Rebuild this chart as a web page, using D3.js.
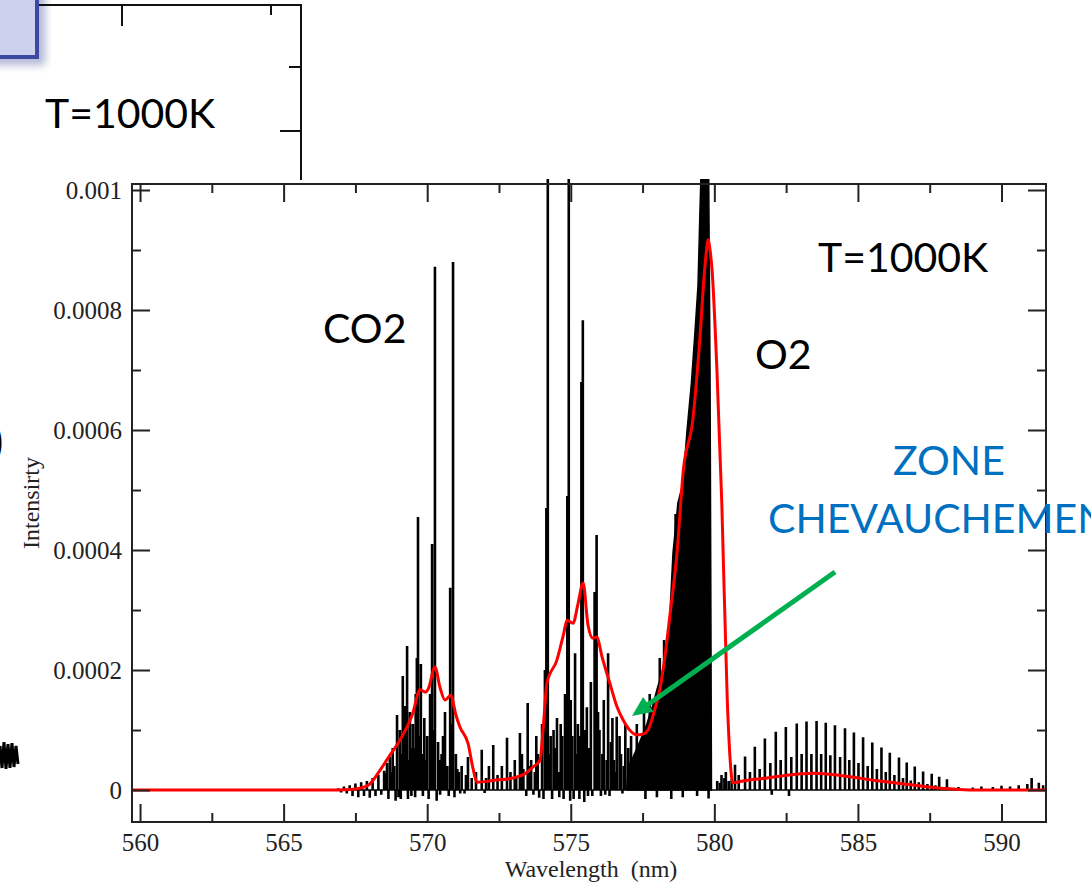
<!DOCTYPE html>
<html>
<head>
<meta charset="utf-8">
<script src="https://cdn.jsdelivr.net/npm/d3@7/dist/d3.min.js"></script>
<style>
  html, body { margin: 0; padding: 0; background: #fff; }
  svg { display: block; }
</style>
</head>
<body>
<svg id="c" width="1091" height="885"></svg>
<script>
// axis ticks
const xTicks = [560, 565, 570, 575, 580, 585, 590];
const xMinorTicks = [562.5, 567.5, 572.5, 577.5, 582.5, 587.5];
const yTicks = [0, 0.0002, 0.0004, 0.0006, 0.0008, 0.001];
const yTickLabels = ["0", "0.0002", "0.0004", "0.0006", "0.0008", "0.001"];
const yMinorTicks = [0.0001, 0.0003, 0.0005, 0.0007, 0.0009];

// black stick spectrum (wavelength nm, intensity)
const stickWl = [
  566.9, 567.0, 567.1, 567.2, 567.3, 567.4, 567.5, 567.6, 567.7, 567.8, 567.9, 568.0, 568.1, 568.2, 568.3, 568.4,
  568.5, 568.55, 568.6, 568.65, 568.7, 568.8, 568.85, 568.95, 569.0, 569.05, 569.1, 569.15, 569.22, 569.3, 569.35,
  569.4, 569.45, 569.5, 569.55, 569.6, 569.68, 569.78, 569.85, 569.9, 570.0, 570.17, 570.27, 570.38, 570.45, 570.5,
  570.62, 570.8, 570.9, 571.0, 571.1, 571.2, 571.3, 571.42, 571.55, 571.7, 571.9, 572.0, 572.05, 572.15, 572.3,
  572.45, 572.6, 572.78, 572.9, 573.05, 573.23, 573.35, 573.5, 573.62, 573.7, 573.75, 573.85, 573.9, 574.0,
  574.15, 574.2, 574.3, 574.4, 574.52, 574.6, 574.7, 574.8, 574.88, 574.93, 574.98, 575.0, 575.15, 575.25, 575.3,
  575.37, 575.42, 575.56, 575.6, 575.7, 575.83, 575.9, 576.0, 576.1, 576.2, 576.3, 576.4, 576.5, 576.6, 576.75,
  576.8, 576.9, 577.0, 577.1, 577.6, 578.0, 578.5, 578.9, 579.4, 579.8,
  580.1, 580.25, 580.35, 580.5, 580.72, 581.07, 581.24, 581.41, 581.58, 581.76, 581.95, 582.0, 582.14, 582.31,
  582.49, 582.6, 582.68, 582.87, 583.04, 583.21, 583.38, 583.56, 583.72, 583.88, 584.04, 584.2, 584.38, 584.55,
  584.7, 584.86, 585.02, 585.18, 585.34, 585.5, 585.66, 585.82, 585.97, 586.11, 586.27, 586.43, 586.57, 586.7,
  586.84, 586.98, 587.12, 587.27, 587.42, 587.57, 587.7, 587.83, 588.1, 588.5, 589.0, 589.3, 589.7, 590.0,
  590.3, 590.6, 590.9, 591.05, 591.3, 591.45,
  // weaker lines filling the bands
  568.75, 568.9, 569.08, 569.18, 569.26, 569.33, 569.42, 569.48, 569.58, 569.64, 569.73, 569.82, 569.95, 570.05,
  570.1, 570.22, 570.33, 570.42, 570.55, 570.7, 570.75, 570.85, 570.95, 571.05, 571.15, 571.35,
  573.1, 573.3, 573.45, 573.55, 573.8, 574.05, 574.1, 574.25, 574.35, 574.45, 574.57, 574.65, 574.75, 575.05,
  575.1, 575.2, 575.33, 575.47, 575.5, 575.65, 575.75, 575.95, 576.05, 576.15, 576.25, 576.35, 576.45, 576.55,
  576.7, 576.85, 577.3, 577.55, 577.75, 578.1, 578.25, 578.65, 580.2, 580.4, 580.6, 580.85
];
const stickI = [
  3e-6, -4e-6, 6e-6, -6e-6, 8e-6, -1e-5, 1.1e-5, -1.2e-5, 1.3e-5, -1e-5, 1.5e-5, -1.3e-5, 2e-5, -1e-5, 2.5e-5, -8e-6,
  3.2e-5, 2.8e-5, 4.5e-5, -1.5e-5, 5.5e-5, 7e-5, 4e-5, 1.25e-4, -1.2e-5, 1.0e-4, 6e-5, 1.9e-4, 1.4e-4, 2.4e-4, 5e-5,
  1.3e-4, -1e-5, 1.1e-4, 7e-5, 1.6e-4, 4.55e-4, 2.1e-4, -1e-5, 1.2e-4, 9e-5, 4.1e-4, 8.72e-4, 8e-5, -8e-6, 6e-5,
  1.3e-4, 3.37e-4, 8.8e-4, 6e-5, 3e-5, 4e-5, -6e-6, 5.5e-5, 2e-5, 3e-5, 6.7e-5, -5e-6, 2e-5, 4e-5, 7.5e-5,
  2.5e-5, 4e-5, 8.7e-5, 3e-5, 5e-5, 9.5e-5, 3.5e-5, 1.45e-4, 5e-5, -8e-6, 3e-5, 6e-5, -1.3e-5, 1.1e-4,
  4.7e-4, 1.2e-3, 9e-5, 1e-4, 1.2e-4, -1.2e-5, 9e-5, 1.6e-4, 4.9e-4, 1.2e-3, -1.8e-5, 1.5e-4, 2.28e-4, 1.1e-4, -1.5e-5,
  6.8e-4, 7.83e-4, 1.38e-4, -1e-5, 1.8e-4, 3.3e-4, 4.25e-4, 1e-4, 6e-5, -8e-6, 2.28e-4, 8e-5, 5e-5, 1.22e-4, 6e-5,
  -6e-6, 1.1e-4, 7e-5, 9e-5, -1.5e-5, -1.2e-5, -1.5e-5, -1.2e-5, -1e-5, -1.4e-5,
  1.5e-5, 2.5e-5, 2e-5, 1.5e-5, 4.2e-5, 5.6e-5, 3e-5, 7.2e-5, 3.5e-5, 8.6e-5, 4.5e-5, -8e-6, 9.7e-5, 5e-5,
  1.05e-4, -1e-5, 5.5e-5, 1.11e-4, 6e-5, 1.14e-4, 6e-5, 1.15e-4, 6e-5, 1.12e-4, 5.8e-5, 1.08e-4, 5.5e-5, 1.03e-4,
  5e-5, 9.6e-5, 4.5e-5, 8.8e-5, 4e-5, 7.9e-5, 3.5e-5, 7.1e-5, 3e-5, 6.2e-5, 2.5e-5, 5.4e-5, 2e-5, 4.6e-5,
  1.6e-5, 3.9e-5, 1.3e-5, 3.1e-5, 1e-5, 2.7e-5, 8e-6, 2.2e-5, 1.8e-5, 5e-6, 4e-6, 6e-6, 5e-6, 7e-6,
  6e-6, 8e-6, 1e-5, 2e-5, 1.2e-5, 8e-6,
  3e-5, -1.8e-5, -1.5e-5, 8e-5, 3e-5, -1.5e-5, 7e-5, 4e-5, -1.2e-5, 2.2e-4, 9e-5, 6e-5, 5e-5, -1.5e-5,
  1.6e-4, 1e-4, -1.8e-5, 5e-5, 9e-5, 4e-5, -1e-5, 1.1e-4, -1.2e-5, 3.5e-5, -6e-6, 2.5e-5,
  2e-5, 6e-5, -1e-5, 4e-5, 9e-5, -1.5e-5, 2e-4, 6e-5, -1.5e-5, 7e-5, 3e-5, 1.1e-4, -1.5e-5, 9e-5,
  -1.5e-5, 6e-5, 9e-5, -2e-5, 1e-4, 7e-5, -1e-5, 1.3e-4, -1e-5, 1.5e-4, 5e-5, -1e-5, 1.2e-4, 3e-5,
  9e-5, 4e-5, 1.1e-4, 1.4e-4, 1.6e-4, 2.2e-4, 2.5e-4, 4.6e-4, 1.2e-5, 3e-5, 1.8e-5, 2.5e-5
];

// dense O2 band head, drawn filled
const bandWl = [576.95, 577.0, 577.17, 577.4, 577.65, 577.85, 578.0, 578.2, 578.35, 578.45, 578.56, 578.73, 578.9,
  579.05, 579.2, 579.32, 579.43, 579.5, 579.55, 579.8, 579.85, 579.88, 579.9];
const bandI = [0, 4e-5, 5.5e-5, 8e-5, 1.1e-4, 1.4e-4, 1.67e-4, 2e-4, 2.33e-4, 2.9e-4, 3.95e-4, 4.78e-4, 5.1e-4,
  6e-4, 6.78e-4, 7.6e-4, 8.4e-4, 9.67e-4, 1.05e-3, 1.05e-3, 7e-4, 3e-4, 0];

// red convolved spectrum
const redWl = [559.72, 566.5, 567.3, 567.66, 568.0, 568.36, 568.7, 569.05, 569.5, 569.75, 569.95, 570.05, 570.27,
  570.45, 570.62, 570.82, 571.0, 571.14, 571.42, 571.6, 571.73, 572.3, 572.99, 573.4, 573.68, 573.93, 574.05,
  574.17, 574.52, 574.75, 574.87, 575.08, 575.25, 575.43, 575.6, 575.77, 575.9, 576.1, 576.36, 576.6, 576.82,
  577.05, 577.3, 577.5, 577.69, 577.9, 578.1, 578.3, 578.45, 578.7, 578.92, 579.25, 579.5, 579.65, 579.74,
  579.78, 579.85, 579.92, 580.09, 580.26, 580.45, 580.65, 581.0, 581.83, 582.6, 583.43, 584.1, 584.72, 585.6,
  586.46, 587.3, 588.2, 589.0, 591.55];
const redI = [0, 0, 1e-6, 3e-6, 1e-5, 3.3e-5, 5.8e-5, 8.3e-5, 1.28e-4, 1.67e-4, 1.63e-4, 1.7e-4, 2.05e-4,
  1.7e-4, 1.5e-4, 1.58e-4, 1.25e-4, 1.05e-4, 7.8e-5, 3.5e-5, 1.3e-5, 1.6e-5, 2e-5, 2.7e-5, 3.8e-5, 5e-5, 1.1e-4,
  1.78e-4, 2.17e-4, 2.6e-4, 2.83e-4, 2.78e-4, 3.1e-4, 3.45e-4, 2.75e-4, 2.53e-4, 2.55e-4, 2.2e-4, 1.78e-4, 1.4e-4, 1.17e-4,
  1e-4, 9.2e-5, 9.3e-5, 1e-4, 1.3e-4, 1.67e-4, 2.3e-4, 2.9e-4, 3.95e-4, 5.33e-4, 6.17e-4, 7.55e-4, 8.6e-4, 9.05e-4,
  9.17e-4, 9.0e-4, 8.67e-4, 7e-4, 4.78e-4, 1.5e-4, 1.2e-5, 1.5e-5, 2e-5, 2.5e-5, 2.8e-5, 2.6e-5, 2.2e-5, 1.6e-5,
  1.1e-5, 6e-6, 2e-6, 0, 0];

const svg = d3.select("#c");
const W = 1091, H = 885;
const serif = "'Liberation Serif', 'Times New Roman', serif";
const sans = "Lato, 'Open Sans', sans-serif";

// ---- slide background pieces ----
const defs = svg.append("defs");
defs.append("filter").attr("id", "blur").append("feGaussianBlur").attr("stdDeviation", 4);

svg.append("rect").attr("x", -10).attr("y", -10).attr("width", 55).attr("height", 75)
  .attr("fill", "#8f97c4").attr("opacity", 0.7).attr("filter", "url(#blur)");
svg.append("rect").attr("x", -6).attr("y", -6).attr("width", 43).attr("height", 63)
  .attr("fill", "#cdd1ee").attr("stroke", "#3b4aa0").attr("stroke-width", 4);

// partial chart behind
const bg = svg.append("g").attr("stroke", "#111").attr("stroke-width", 2).attr("fill", "none");
bg.append("path").attr("d", "M39,5H301V180");
bg.append("path").attr("d", "M122,5V26M271,5V15M301,67H289M301,131H280");

svg.append("text").attr("x", 45).attr("y", 128).attr("font-family", sans).attr("font-size", 41)
  .attr("fill", "#000").text("T=1000K");
svg.append("text").attr("x", -9).attr("y", 457).attr("font-family", sans).attr("font-size", 44)
  .attr("font-weight", "bold").style("fill", "#000").text(")");
svg.append("path")
  .attr("d", "M0,746L2,768L4,742L6,769L8,744L10,768L12,743L14,767L16,746L18,764")
  .attr("fill", "none").attr("stroke", "#000").attr("stroke-width", 3);

// ---- main plot image area ----
svg.append("rect").attr("x", 20).attr("y", 180).attr("width", W - 20).attr("height", H - 180).attr("fill", "#fff");

const pL = 132, pR = 1046, pT = 184, pB = 822;
const x = d3.scaleLinear().domain([559.72, 591.55]).range([pL, pR]);
const y = d3.scaleLinear().domain([-5.33e-5, 1.01e-3]).range([pB, pT]);

defs.append("clipPath").attr("id", "plotclip").append("rect")
  .attr("x", pL).attr("y", pT - 5).attr("width", pR - pL).attr("height", pB - pT + 5);

const plot = svg.append("g").attr("clip-path", "url(#plotclip)");

// baseline
plot.append("line").attr("x1", x(559.72)).attr("x2", x(591.55)).attr("y1", y(0)).attr("y2", y(0))
  .attr("stroke", "#000").attr("stroke-width", 1.5);

// sticks
const sticks = stickWl.map((w, i) => ({ w, v: stickI[i] }));
plot.append("path")
  .attr("d", sticks.map(s => `M${x(s.w)},${y(0)}V${y(s.v)}`).join(""))
  .attr("stroke", "#000").attr("stroke-width", 2.6).attr("fill", "none");

// band head
const band = bandWl.map((w, i) => ({ w, v: bandI[i] }));
plot.append("path").datum(band)
  .attr("d", d3.area().x(d => x(d.w)).y0(y(0)).y1(d => y(d.v)))
  .attr("fill", "#000").attr("stroke", "#000").attr("stroke-width", 1.5);

// red curve
const red = redWl.map((w, i) => ({ w, v: redI[i] }));
plot.append("path").datum(red)
  .attr("d", d3.line().x(d => x(d.w)).y(d => y(d.v)).curve(d3.curveMonotoneX))
  .attr("fill", "none").attr("stroke", "#ff0000").attr("stroke-width", 3).attr("stroke-linejoin", "round");

// ---- axes ----
function styleAxis(g) {
  g.select(".domain").remove();
  g.selectAll(".tick line").attr("stroke", "#222").attr("stroke-width", 2);
  g.selectAll("text").attr("font-family", serif).attr("font-size", 25).attr("fill", "#222");
}

svg.append("g").attr("transform", `translate(0,${pB})`)
  .call(d3.axisBottom(x).tickValues(xTicks).tickSize(-18).tickPadding(11).tickFormat(d3.format("d")))
  .call(styleAxis);
svg.append("g").attr("transform", `translate(0,${pB})`)
  .call(d3.axisBottom(x).tickValues(xMinorTicks).tickSize(-9).tickFormat(""))
  .call(styleAxis);
svg.append("g").attr("transform", `translate(0,${pT})`)
  .call(d3.axisTop(x).tickValues(xTicks).tickSize(-18).tickFormat(""))
  .call(styleAxis);
svg.append("g").attr("transform", `translate(0,${pT})`)
  .call(d3.axisTop(x).tickValues(xMinorTicks).tickSize(-9).tickFormat(""))
  .call(styleAxis);

svg.append("g").attr("transform", `translate(${pL},0)`)
  .call(d3.axisLeft(y).tickValues(yTicks).tickSize(-18).tickPadding(10)
    .tickFormat((d, i) => yTickLabels[i]))
  .call(styleAxis);
svg.append("g").attr("transform", `translate(${pL},0)`)
  .call(d3.axisLeft(y).tickValues(yMinorTicks).tickSize(-9).tickFormat(""))
  .call(styleAxis);
svg.append("g").attr("transform", `translate(${pR},0)`)
  .call(d3.axisRight(y).tickValues(yTicks).tickSize(-18).tickFormat(""))
  .call(styleAxis);
svg.append("g").attr("transform", `translate(${pR},0)`)
  .call(d3.axisRight(y).tickValues(yMinorTicks).tickSize(-9).tickFormat(""))
  .call(styleAxis);

svg.append("rect").attr("x", pL).attr("y", pT).attr("width", pR - pL).attr("height", pB - pT)
  .attr("fill", "none").attr("stroke", "#222").attr("stroke-width", 2);

svg.append("text").attr("x", 591).attr("y", 877).attr("text-anchor", "middle")
  .attr("font-family", serif).attr("font-size", 24).attr("fill", "#222")
  .attr("xml:space", "preserve").text("Wavelength  (nm)");
svg.append("text").attr("transform", "translate(39,503) rotate(-90)").attr("text-anchor", "middle")
  .attr("font-family", serif).attr("font-size", 24).attr("fill", "#222").text("Intensirty");

// ---- annotations ----
function note(tx, ty, s, color) {
  svg.append("text").attr("x", tx).attr("y", ty).attr("font-family", sans).attr("font-size", 41)
    .attr("fill", color).text(s);
}
note(818, 272, "T=1000K", "#000");
note(323, 343, "CO2", "#000");
note(755, 369, "O2", "#000");
note(893, 475, "ZONE", "#0070c0");
note(768, 533, "CHEVAUCHEMENT", "#0070c0");

// green arrow
const a0 = [835, 572], a1 = [632, 716];
const dx = a1[0] - a0[0], dy = a1[1] - a0[1];
const len = Math.hypot(dx, dy), ux = dx / len, uy = dy / len;
const hl = 20, hw = 9;
const bx = a1[0] - ux * hl, by = a1[1] - uy * hl;
svg.append("line").attr("x1", a0[0]).attr("y1", a0[1]).attr("x2", bx + ux * 2).attr("y2", by + uy * 2)
  .attr("stroke", "#00b050").attr("stroke-width", 5);
svg.append("polygon")
  .attr("points", [[a1[0], a1[1]], [bx - uy * hw, by + ux * hw], [bx + uy * hw, by - ux * hw]].map(p => p.join(",")).join(" "))
  .attr("fill", "#00b050");
</script>
</body>
</html>
